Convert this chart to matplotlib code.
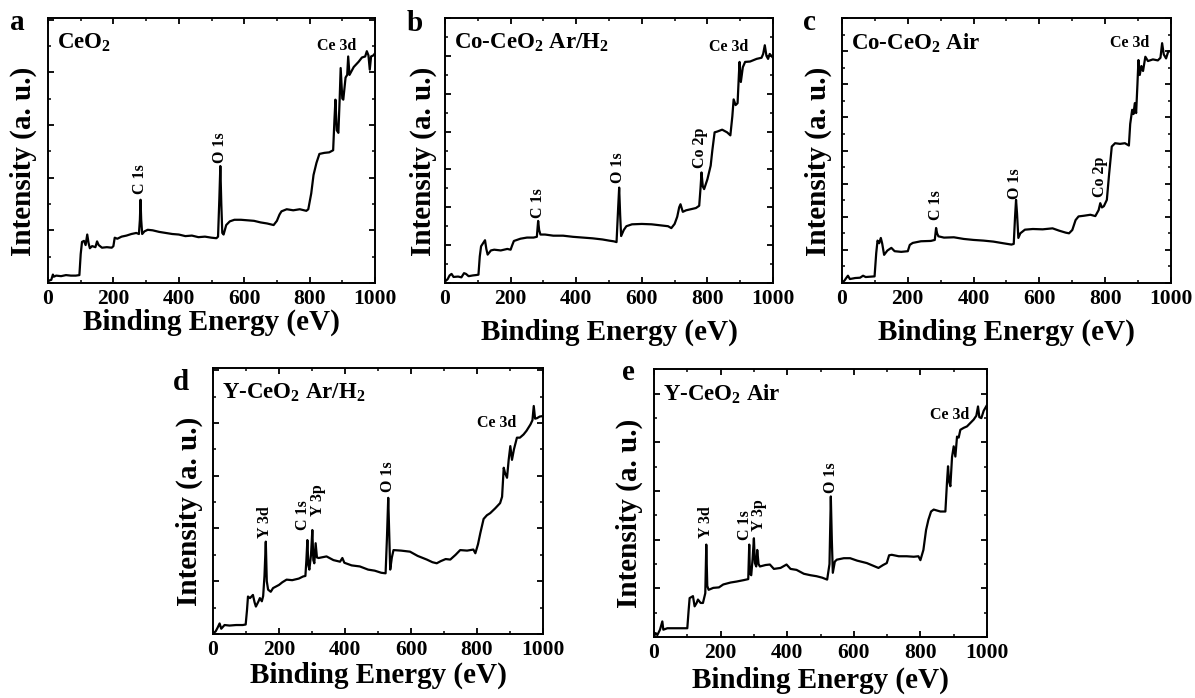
import matplotlib
matplotlib.use("Agg")
import matplotlib.pyplot as plt
from matplotlib.ticker import MultipleLocator, NullFormatter

# XPS survey spectra (binding energy in eV, intensity in arbitrary units)
ceo2_energy = [0, 5, 10, 15, 18, 25, 40, 55, 70, 85, 96, 100, 104, 110, 115, 120, 124, 128, 135,
               145, 150, 155, 165, 180, 195, 200, 204, 212, 225, 240, 255, 270, 278, 281, 283,
               285, 288, 295, 305, 320, 340, 360, 380, 400, 420, 440, 460, 480, 500, 515, 520,
               524, 527, 530, 533, 537, 545, 556, 570, 590, 610, 630, 650, 670, 690, 700, 708,
               714, 730, 750, 770, 790, 796, 805, 812, 821, 830, 845, 860, 872, 876, 879, 883,
               888, 892, 895, 900, 903, 910, 915, 918, 922, 935, 950, 960, 970, 975, 980, 984,
               988, 995, 1000]
ceo2_counts = [0.03, 0.05, 0.06, 0.16, 0.12, 0.14, 0.13, 0.15, 0.14, 0.14, 0.15, 0.55, 0.78, 0.80,
               0.72, 0.92, 0.76, 0.66, 0.70, 0.68, 0.79, 0.72, 0.67, 0.68, 0.67, 0.70, 0.86, 0.84,
               0.88, 0.90, 0.93, 0.95, 0.93, 1.20, 1.58, 1.20, 0.93, 0.98, 1.01, 1.00, 0.97, 0.95,
               0.93, 0.92, 0.89, 0.90, 0.87, 0.88, 0.86, 0.85, 0.88, 1.60, 2.22, 1.50, 0.95, 0.92,
               1.10, 1.17, 1.20, 1.20, 1.19, 1.18, 1.15, 1.13, 1.10, 1.18, 1.30, 1.36, 1.40, 1.38,
               1.40, 1.37, 1.40, 1.70, 2.05, 2.28, 2.45, 2.47, 2.48, 2.52, 3.10, 3.48, 2.90, 2.85,
               3.50, 4.08, 3.50, 3.48, 3.90, 3.95, 4.30, 3.95, 4.10, 4.20, 4.28, 4.30, 4.40, 4.32,
               4.05, 4.30, 4.32, 4.36]

co_arh2_energy = [0, 8, 14, 20, 26, 40, 50, 58, 64, 72, 85, 95, 102, 106, 110, 116, 122, 126, 130,
                  140, 150, 170, 190, 200, 205, 210, 230, 250, 270, 280, 284, 287, 291, 305, 330,
                  360, 390, 420, 450, 480, 500, 515, 523, 528, 531, 534, 537, 545, 553, 570, 600,
                  630, 660, 680, 690, 700, 708, 714, 718, 725, 735, 750, 765, 775, 779, 782, 786,
                  790, 800, 810, 815, 822, 830, 845, 860, 870, 876, 880, 886, 892, 896, 898, 902,
                  908, 915, 930, 950, 965, 970, 975, 980, 985, 990, 1000]
co_arh2_counts = [0.04, 0.10, 0.20, 0.24, 0.16, 0.17, 0.15, 0.26, 0.24, 0.18, 0.20, 0.21, 0.22,
                  0.70, 0.97, 1.05, 1.13, 0.90, 0.75, 0.86, 0.88, 0.86, 0.90, 0.88, 1.00, 1.11,
                  1.17, 1.20, 1.20, 1.22, 1.64, 1.40, 1.28, 1.28, 1.25, 1.25, 1.22, 1.20, 1.18,
                  1.15, 1.12, 1.10, 1.08, 2.00, 2.52, 1.80, 1.24, 1.40, 1.50, 1.55, 1.56, 1.55,
                  1.52, 1.50, 1.45, 1.56, 1.75, 2.00, 2.08, 1.88, 1.92, 1.95, 1.98, 2.04, 2.50,
                  2.92, 2.55, 2.48, 2.74, 3.10, 3.50, 3.98, 4.00, 4.05, 3.98, 3.90, 4.40, 4.85,
                  4.70, 4.75, 5.50, 5.84, 5.31, 5.70, 5.84, 5.85, 5.92, 5.95, 6.05, 6.28, 6.00,
                  5.92, 6.05, 5.95]

co_air_energy = [0, 8, 15, 18, 24, 40, 55, 64, 72, 85, 99, 104, 108, 113, 118, 122, 128, 138, 150,
                 160, 180, 200, 206, 215, 240, 270, 282, 286, 289, 293, 310, 340, 370, 400, 430,
                 460, 490, 515, 522, 526, 529, 532, 536, 542, 556, 580, 610, 640, 660, 680, 690,
                 700, 710, 719, 735, 755, 770, 780, 785, 790, 796, 805, 812, 820, 830, 845, 860,
                 872, 876, 882, 886, 890, 894, 898, 901, 905, 910, 915, 922, 930, 945, 960, 968,
                 973, 978, 985, 992, 1000]
co_air_counts = [0.00, 0.08, 0.18, 0.22, 0.12, 0.15, 0.16, 0.22, 0.18, 0.19, 0.20, 0.90, 1.28,
                 1.20, 1.36, 1.20, 0.85, 0.98, 1.06, 0.96, 0.94, 0.96, 1.15, 1.21, 1.26, 1.27,
                 1.30, 1.66, 1.50, 1.41, 1.37, 1.38, 1.33, 1.30, 1.28, 1.25, 1.20, 1.16, 1.18,
                 2.00, 2.51, 2.10, 1.36, 1.50, 1.61, 1.63, 1.62, 1.65, 1.58, 1.52, 1.50, 1.60,
                 1.90, 2.01, 2.03, 2.06, 2.02, 2.20, 2.41, 2.28, 2.32, 2.51, 3.30, 4.12, 4.22,
                 4.20, 4.22, 4.15, 4.80, 5.23, 5.10, 5.43, 5.13, 6.00, 6.73, 6.28, 6.55, 6.40,
                 6.83, 6.70, 6.75, 6.72, 6.80, 7.24, 6.90, 6.78, 7.00, 6.98]

y_arh2_energy = [0, 8, 14, 20, 25, 35, 50, 70, 90, 99, 103, 106, 112, 121, 126, 130, 138, 142, 148,
                 152, 156, 160, 163, 167, 175, 182, 200, 210, 223, 240, 260, 273, 280, 283, 286,
                 289, 292, 297, 301, 304, 307, 311, 315, 320, 344, 365, 385, 392, 398, 420, 445,
                 470, 490, 510, 523, 527, 531, 534, 537, 542, 547, 570, 597, 620, 648, 665, 678,
                 690, 705, 719, 735, 749, 770, 789, 795, 803, 810, 820, 830, 840, 855, 870, 876,
                 881, 885, 891, 896, 901, 906, 912, 921, 930, 941, 950, 962, 968, 972, 976, 982,
                 990, 1000]
y_arh2_counts = [0.01, 0.05, 0.12, 0.20, 0.10, 0.17, 0.16, 0.17, 0.17, 0.18, 0.45, 0.71, 0.68,
                 0.74, 0.60, 0.52, 0.62, 0.68, 0.62, 0.72, 1.10, 1.75, 1.00, 0.84, 0.80, 0.87,
                 0.93, 0.98, 1.03, 1.02, 1.05, 1.09, 1.10, 1.40, 1.78, 1.30, 1.22, 1.50, 1.97,
                 1.40, 1.34, 1.72, 1.45, 1.44, 1.47, 1.40, 1.37, 1.44, 1.35, 1.30, 1.28, 1.22,
                 1.20, 1.16, 1.15, 1.80, 2.58, 1.90, 1.22, 1.45, 1.59, 1.58, 1.56, 1.48, 1.41,
                 1.36, 1.34, 1.38, 1.42, 1.41, 1.50, 1.59, 1.58, 1.60, 1.53, 1.70, 1.91, 2.18,
                 2.25, 2.29, 2.38, 2.48, 2.60, 3.15, 3.05, 2.96, 3.30, 3.56, 3.30, 3.50, 3.72,
                 3.72, 3.78, 3.85, 3.97, 4.05, 4.32, 4.08, 4.09, 4.12, 4.13]

y_air_energy = [0, 5, 10, 18, 25, 28, 40, 60, 80, 100, 104, 107, 117, 122, 128, 132, 140, 147, 154,
                157, 160, 164, 178, 195, 208, 230, 248, 270, 283, 286, 288, 292, 296, 300, 303,
                307, 310, 314, 318, 335, 348, 360, 380, 398, 410, 428, 450, 470, 488, 505, 520,
                527, 531, 534, 537, 543, 549, 570, 589, 610, 639, 660, 674, 688, 699, 706, 714,
                735, 759, 780, 794, 800, 809, 817, 824, 832, 840, 860, 875, 880, 883, 886, 890,
                895, 900, 905, 910, 915, 920, 930, 940, 950, 960, 968, 973, 977, 983, 990, 1000]
y_air_counts = [0.01, 0.08, 0.04, 0.15, 0.32, 0.15, 0.18, 0.18, 0.18, 0.18, 0.55, 0.80, 0.84, 0.63,
                0.70, 0.77, 0.70, 0.70, 0.90, 1.90, 1.05, 0.97, 1.01, 1.02, 1.08, 1.12, 1.14, 1.17,
                1.19, 1.90, 1.30, 1.27, 1.60, 2.03, 1.52, 1.45, 1.79, 1.50, 1.45, 1.48, 1.49, 1.40,
                1.42, 1.49, 1.40, 1.38, 1.30, 1.27, 1.25, 1.22, 1.18, 1.50, 2.89, 2.00, 1.32, 1.55,
                1.59, 1.62, 1.62, 1.57, 1.52, 1.46, 1.42, 1.48, 1.52, 1.68, 1.69, 1.66, 1.66, 1.65,
                1.66, 1.58, 1.79, 2.20, 2.41, 2.58, 2.62, 2.58, 2.58, 3.20, 3.51, 3.20, 3.10, 3.70,
                3.92, 3.71, 4.12, 4.10, 4.26, 4.30, 4.33, 4.40, 4.47, 4.55, 4.74, 4.52, 4.50, 4.65,
                4.77]

panel_letters = ["a", "b", "c", "d", "e"]
sample_names = ["CeO$_2$", "Co-CeO$_2$ Ar/H$_2$", "Co-CeO$_2$ Air",
                "Y-CeO$_2$ Ar/H$_2$", "Y-CeO$_2$ Air"]
y_tops = [5.03, 7.0, 8.0, 5.04, 5.51]

# peak labels: (text, energy, intensity, rotated)
peak_labels = [
    [("C 1s", 281, 1.68, True), ("O 1s", 526, 2.28, True), ("Ce 3d", 883, 4.49, False)],
    [("C 1s", 284, 1.73, True), ("O 1s", 528, 2.65, True), ("Co 2p", 777, 3.05, True),
     ("Ce 3d", 865, 6.24, False)],
    [("C 1s", 287, 1.91, True), ("O 1s", 526, 2.53, True), ("Co 2p", 785, 2.61, True),
     ("Ce 3d", 873, 7.24, False)],
    [("Y 3d", 157, 1.82, True), ("C 1s", 273, 1.97, True), ("Y 3p", 319, 2.23, True),
     ("O 1s", 531, 2.70, True), ("Ce 3d", 860, 3.99, False)],
    [("Y 3d", 157, 2.03, True), ("C 1s", 273, 2.00, True), ("Y 3p", 316, 2.17, True),
     ("O 1s", 531, 2.96, True), ("Ce 3d", 887, 4.57, False)],
]

plt.rcParams["font.family"] = ["Liberation Serif", "DejaVu Serif"]
plt.rcParams["font.weight"] = "bold"
plt.rcParams["mathtext.fontset"] = "custom"
plt.rcParams["mathtext.rm"] = "Liberation Serif:bold"
plt.rcParams["mathtext.bf"] = "Liberation Serif:bold"
plt.rcParams["mathtext.default"] = "bf"
plt.rcParams["axes.linewidth"] = 1.4
for side in ("xtick", "ytick"):
    plt.rcParams[f"{side}.direction"] = "in"
    plt.rcParams[f"{side}.major.size"] = 4.5
    plt.rcParams[f"{side}.minor.size"] = 2.5
    plt.rcParams[f"{side}.major.width"] = 1.3
    plt.rcParams[f"{side}.minor.width"] = 1.1
plt.rcParams["xtick.top"] = True
plt.rcParams["ytick.right"] = True

W, H = 1195, 698
fig = plt.figure(figsize=(W / 100, H / 100), dpi=100)

# axes boxes in pixels: left, top, right, bottom
boxes = [(48, 18, 375, 283), (445, 18, 773, 283), (842, 18, 1171, 283),
         (213, 368, 543, 634), (654, 369, 987, 637)]
letter_pos = [(10, 30), (407, 31), (803, 30), (173, 390), (622, 380)]
ylabel_x = [-0.034, -0.024, -0.030, -0.030, -0.033]
xlabel_y = [-0.098, -0.136, -0.136, -0.105, -0.112]

spectra = [(ceo2_energy, ceo2_counts), (co_arh2_energy, co_arh2_counts),
           (co_air_energy, co_air_counts), (y_arh2_energy, y_arh2_counts),
           (y_air_energy, y_air_counts)]

for i, (x, y) in enumerate(spectra):
    l, t, r, b = boxes[i]
    ax = fig.add_axes([l / W, 1 - b / H, (r - l) / W, (b - t) / H])
    ax.plot(x, y, color="black", lw=1.6)
    ax.set_xlim(0, 1000)
    ax.set_ylim(0, y_tops[i])
    ax.xaxis.set_major_locator(MultipleLocator(200))
    ax.xaxis.set_minor_locator(MultipleLocator(100))
    ax.yaxis.set_major_locator(MultipleLocator(1))
    ax.yaxis.set_minor_locator(MultipleLocator(0.5))
    ax.yaxis.set_major_formatter(NullFormatter())
    ax.tick_params(axis="x", which="major", labelsize=15.5, pad=4)
    ax.set_xlabel("Binding Energy (eV)", fontsize=21, fontweight="bold")
    ax.set_ylabel("Intensity (a. u.)", fontsize=21, fontweight="bold")
    ax.xaxis.set_label_coords(0.5, xlabel_y[i])
    ax.yaxis.set_label_coords(ylabel_x[i], 0.46)
    for lab in ax.get_xticklabels():
        lab.set_fontweight("bold")
    ax.text(0.026, 0.95, sample_names[i], transform=ax.transAxes, ha="left", va="top",
            fontsize=16.5, fontweight="bold")
    for text, e, v, rot in peak_labels[i]:
        if rot:
            ax.text(e, v, text, rotation=90, ha="center", va="bottom", fontsize=11.5,
                    fontweight="bold")
        else:
            ax.text(e, v, text, ha="center", va="center", fontsize=11.5, fontweight="bold")
    lx, ly = letter_pos[i]
    fig.text(lx / W, 1 - ly / H, panel_letters[i], ha="left", va="baseline",
             fontsize=21, fontweight="bold")

fig.savefig("out.png", dpi=100)
